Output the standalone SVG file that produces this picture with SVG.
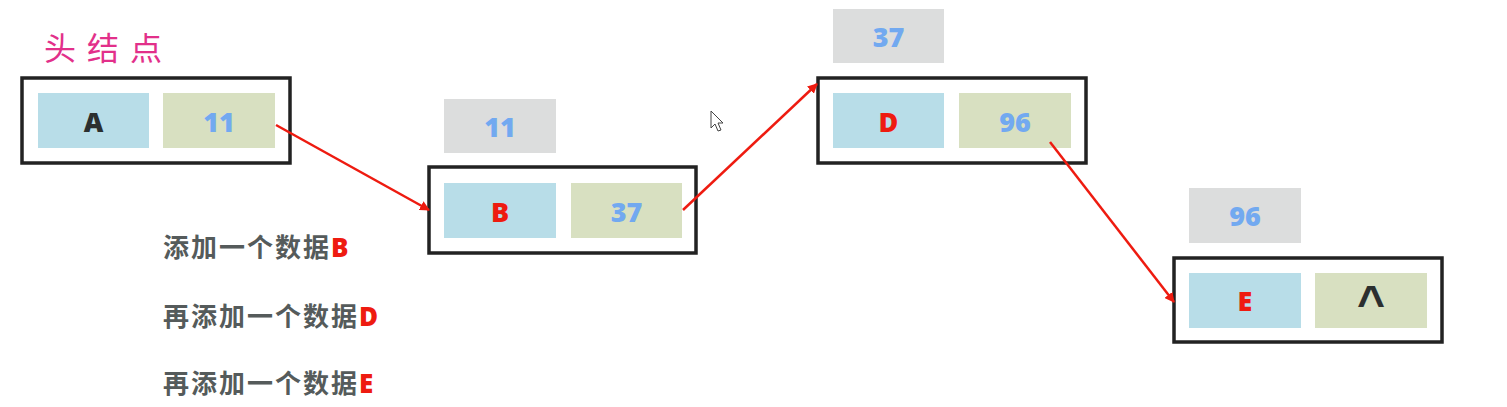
<svg xmlns="http://www.w3.org/2000/svg" width="1507" height="407" viewBox="0 0 1507 407">
<defs>
<style>
.outer{fill:#fff;stroke:#222;stroke-width:3.5}
.dat{fill:#b8dde8}
.nxt{fill:#d8e0c1}
.lbl{fill:#dcdddd}
.t{font-family:"Open Sans","DejaVu Sans",sans-serif;font-weight:800;font-size:27px;text-anchor:middle;dominant-baseline:central}
.blue{fill:#72a9f0}
.red{fill:#ee1b10}
.dark{fill:#2b2f2f}
.cap{font-family:"Noto Sans CJK SC","Liberation Sans",sans-serif;font-weight:700;font-size:26px;fill:#555b5b;letter-spacing:2px}
.capl{font-family:"Open Sans",sans-serif;font-weight:800;letter-spacing:0}
.conn{stroke:#ee1b10;stroke-width:2.5;fill:none;marker-end:url(#ah)}
</style>
<marker id="ah" markerWidth="10" markerHeight="10" refX="9" refY="5" orient="auto" markerUnits="userSpaceOnUse">
<path d="M0,0 L10,5 L0,10 z" fill="#ee1b10"/>
</marker>
</defs>
<rect width="1507" height="407" fill="#fff"/>
<text x="44" y="60" font-family="Noto Sans CJK SC,sans-serif" font-size="32" fill="#e2308a" letter-spacing="11">头结点</text>
<g id="nodeA">
<rect class="outer" x="22" y="78" width="268" height="85"/>
<rect class="dat" x="38" y="93" width="111" height="55"/>
<rect class="nxt" x="163" y="93" width="112" height="55"/>
<text class="t dark" x="93.5" y="121">A</text>
<text class="t blue" x="219" y="121">11</text>
</g>
<g id="nodeB">
<rect class="lbl" x="444" y="99" width="112" height="54"/>
<text class="t blue" x="500" y="126">11</text>
<rect class="outer" x="429" y="167" width="267" height="86"/>
<rect class="dat" x="444" y="183" width="112" height="55"/>
<rect class="nxt" x="571" y="183" width="111" height="55"/>
<text class="t red" x="500" y="211">B</text>
<text class="t blue" x="626.5" y="211">37</text>
</g>
<g id="nodeD">
<rect class="lbl" x="833" y="9" width="111" height="54"/>
<text class="t blue" x="888.5" y="36">37</text>
<rect class="outer" x="818" y="78" width="268" height="85"/>
<rect class="dat" x="833" y="93" width="111" height="55"/>
<rect class="nxt" x="959" y="93" width="112" height="55"/>
<text class="t red" x="888.5" y="121">D</text>
<text class="t blue" x="1015" y="121">96</text>
</g>
<g id="nodeE">
<rect class="lbl" x="1189" y="188" width="112" height="55"/>
<text class="t blue" x="1245" y="215">96</text>
<rect class="outer" x="1174" y="258" width="268" height="84"/>
<rect class="dat" x="1189" y="273" width="112" height="55"/>
<rect class="nxt" x="1315" y="273" width="112" height="55"/>
<text class="t red" x="1245" y="300">E</text>
<text x="1371" y="319" font-family="Liberation Sans,sans-serif" font-weight="700" font-size="48" text-anchor="middle" fill="#2b2f2f">^</text>
</g>
<g id="connectors">
<line class="conn" x1="276" y1="125" x2="429" y2="210"/>
<line class="conn" x1="683" y1="210" x2="817" y2="84"/>
<line class="conn" x1="1050" y1="142" x2="1174" y2="302"/>
</g>
<g id="captions">
<text class="cap" x="163" y="257">添加一个数据<tspan class="red capl">B</tspan></text>
<text class="cap" x="163" y="326">再添加一个数据<tspan class="red capl">D</tspan></text>
<text class="cap" x="163" y="393">再添加一个数据<tspan class="red capl">E</tspan></text>
</g>
<path d="M711,111 L711,128 L715,124 L718,131 L721,130 L718,123 L723,123 Z" fill="#fff" stroke="#444" stroke-width="1"/>
</svg>
